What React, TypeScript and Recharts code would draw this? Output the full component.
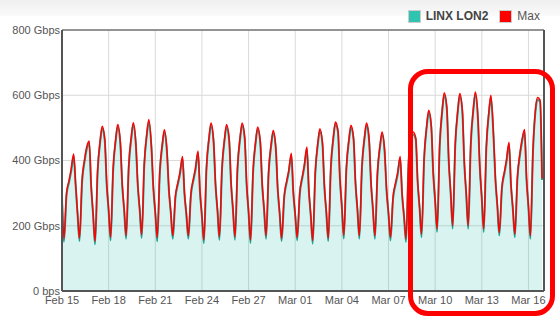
import React from 'react';
import {
  ComposedChart,
  Area,
  Line,
  XAxis,
  YAxis,
  CartesianGrid,
  ReferenceLine,
} from 'recharts';

// sample hours inside each day (Feb 15 .. Mar 16, 2024)
const hours = [0, 3, 7, 11, 14, 18, 21];

const tickDays = [0, 3, 6, 9, 12, 15, 18, 21, 24, 27, 30];
const tickLabels = ['Feb 15', 'Feb 18', 'Feb 21', 'Feb 24', 'Feb 27', 'Mar 01', 'Mar 04', 'Mar 07', 'Mar 10', 'Mar 13', 'Mar 16'];

const yTicks = [0, 200, 400, 600, 800];

// LINX LON2 average traffic, Gbps, one row per day
const lon2 = [
  [289, 151, 294, 334, 365, 414, 325],
  [235, 153, 334, 399, 433, 454, 320],
  [233, 143, 365, 457, 498, 461, 326],
  [244, 155, 372, 462, 503, 452, 323],
  [245, 160, 378, 468, 509, 447, 322],
  [246, 163, 385, 478, 519, 440, 314],
  [238, 152, 363, 448, 487, 425, 308],
  [237, 160, 284, 328, 356, 406, 298],
  [232, 160, 293, 340, 370, 423, 301],
  [227, 147, 373, 466, 508, 455, 323],
  [244, 157, 373, 463, 503, 461, 327],
  [245, 157, 376, 467, 508, 466, 325],
  [239, 147, 365, 455, 496, 455, 325],
  [246, 160, 363, 447, 485, 435, 310],
  [235, 153, 286, 333, 363, 416, 301],
  [231, 155, 296, 346, 379, 435, 307],
  [229, 145, 361, 450, 490, 450, 319],
  [239, 153, 377, 469, 511, 486, 342],
  [255, 161, 374, 461, 501, 464, 330],
  [248, 160, 378, 467, 508, 461, 328],
  [247, 160, 360, 443, 480, 425, 306],
  [234, 155, 282, 327, 355, 406, 293],
  [225, 150, 394, 474, 480, 464, 332],
  [252, 165, 404, 502, 547, 502, 360],
  [274, 181, 443, 552, 601, 558, 395],
  [297, 191, 445, 550, 598, 548, 390],
  [294, 191, 448, 555, 603, 527, 374],
  [281, 181, 438, 545, 593, 476, 341],
  [259, 170, 312, 361, 394, 450, 324],
  [248, 165, 345, 418, 456, 489, 343],
  [255, 160, 426, 554, 586, 579, 340],
];

// Max, Gbps
const maxTraffic = [
  [294, 160, 300, 340, 372, 420, 330],
  [240, 162, 340, 405, 440, 460, 325],
  [238, 152, 371, 463, 505, 467, 331],
  [249, 164, 378, 468, 510, 458, 328],
  [250, 169, 384, 474, 516, 453, 327],
  [251, 172, 391, 484, 526, 446, 319],
  [243, 164, 369, 454, 494, 431, 313],
  [242, 169, 290, 334, 363, 412, 303],
  [237, 169, 299, 346, 377, 429, 306],
  [232, 156, 379, 472, 515, 461, 328],
  [249, 166, 379, 469, 510, 467, 332],
  [250, 166, 382, 473, 515, 472, 330],
  [244, 156, 371, 461, 503, 461, 330],
  [251, 169, 369, 453, 492, 441, 315],
  [240, 162, 292, 339, 370, 422, 306],
  [236, 164, 302, 352, 386, 441, 312],
  [234, 154, 367, 456, 497, 456, 324],
  [244, 162, 383, 475, 518, 492, 347],
  [260, 170, 380, 467, 508, 470, 335],
  [253, 169, 384, 473, 515, 467, 333],
  [252, 169, 366, 449, 487, 431, 311],
  [239, 164, 288, 333, 362, 412, 298],
  [230, 159, 400, 480, 487, 470, 337],
  [257, 174, 410, 508, 554, 508, 365],
  [279, 190, 449, 558, 608, 564, 400],
  [302, 200, 451, 556, 605, 554, 395],
  [299, 200, 454, 561, 610, 533, 379],
  [286, 190, 444, 551, 600, 482, 346],
  [264, 179, 318, 367, 401, 456, 329],
  [253, 174, 351, 424, 463, 495, 348],
  [260, 169, 432, 560, 593, 585, 345],
];

const data = lon2.flatMap((row, day) =>
  row.map((v, i) => ({ t: day + hours[i] / 24, lon2: v, max: maxTraffic[day][i] }))
);

const font = "'Liberation Sans', Arial, Helvetica, sans-serif";
const tickStyle = { fontSize: 11, fill: '#555', fontFamily: font };

const LegendBox = () => (
  <div
    style={{
      position: 'absolute',
      top: 9,
      right: 20,
      display: 'flex',
      alignItems: 'center',
      fontFamily: font,
      fontSize: 12,
      color: '#444',
    }}
  >
    <span style={{ width: 11, height: 11, background: '#2ec4b0', border: '1px solid #ccc', marginRight: 5 }} />
    <span style={{ fontWeight: 'bold', marginRight: 11 }}>LINX LON2</span>
    <span style={{ width: 11, height: 11, background: '#ff0000', border: '1px solid #ccc', marginRight: 5 }} />
    <span style={{ color: '#555' }}>Max</span>
  </div>
);

export default function App() {
  return (
    <div style={{ position: 'absolute', left: 0, top: 0, width: 560, height: 322, background: '#fff', overflow: 'hidden' }}>
      <div style={{ position: 'absolute', left: 0, top: 0, width: 560, height: 16, background: 'linear-gradient(#efefef, #fafafa)' }} />
      <ComposedChart width={560} height={322} data={data} margin={{ top: 30, right: 16, left: 0, bottom: 0 }}>
        <CartesianGrid stroke="#d9d9d9" />
        <XAxis
          dataKey="t"
          type="number"
          domain={[0, 31]}
          ticks={tickDays}
          tickFormatter={(v) => tickLabels[tickDays.indexOf(v)]}
          height={31}
          tickLine={false}
          tickSize={0}
          tickMargin={5}
          axisLine={{ stroke: '#555', strokeWidth: 2 }}
          tick={tickStyle}
          interval={0}
        />
        <YAxis
          type="number"
          domain={[0, 800]}
          ticks={yTicks}
          tickFormatter={(v) => (v === 0 ? '0 bps' : `${v} Gbps`)}
          width={62}
          tickLine={false}
          tickSize={0}
          tickMargin={2}
          axisLine={{ stroke: '#555', strokeWidth: 2 }}
          tick={tickStyle}
          interval={0}
        />
        <ReferenceLine y={800} stroke="#777" strokeWidth={1.5} />
        <ReferenceLine x={31} stroke="#555" strokeWidth={2} />
        <Area
          type="monotone"
          dataKey="lon2"
          stroke="#1fa595"
          strokeWidth={2}
          fill="#2fbfad"
          fillOpacity={0.18}
          dot={false}
          isAnimationActive={false}
        />
        <Line
          type="monotone"
          dataKey="max"
          stroke="#ff0000"
          strokeWidth={1.5}
          dot={false}
          isAnimationActive={false}
        />
      </ComposedChart>
      <LegendBox />
      <div
        style={{
          position: 'absolute',
          left: 408,
          top: 69,
          width: 147,
          height: 247,
          border: '5px solid #ff0000',
          borderRadius: 20,
          boxSizing: 'border-box',
          pointerEvents: 'none',
        }}
      />
    </div>
  );
}
